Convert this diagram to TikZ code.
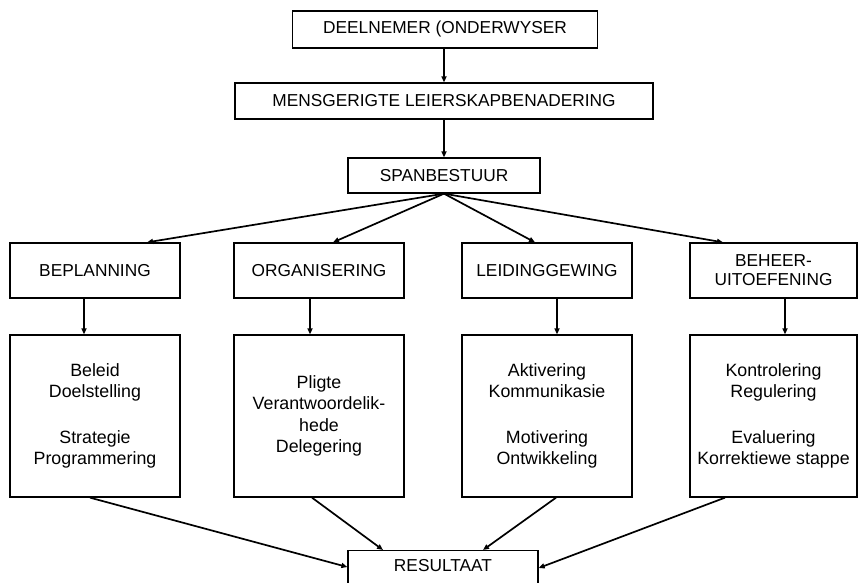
\documentclass[tikz,border=0pt]{standalone}
\usepackage{fontspec}
\setmainfont{Liberation Sans}
\usetikzlibrary{arrows.meta,calc}
\tikzset{
  box/.style={draw=black, line width=1.3pt, rectangle, inner sep=0pt, align=center,
    font=\fontsize{17.3}{19}\selectfont},
  bigbox/.style={box, minimum width=170pt, minimum height=162pt,
    font=\fontsize{17.8}{20.8}\selectfont},
  midbox/.style={box, minimum width=170pt, minimum height=55pt},
  arr/.style={line width=1.7pt, -{Triangle[length=6pt,width=5pt]}},
}
\begin{document}
\begin{tikzpicture}[x=1pt,y=-1pt]
\useasboundingbox (0,0) rectangle (858,582);
\clip (0,0) rectangle (858,582);
% top chain
\node[box, minimum width=305pt, minimum height=37pt] (top) at (445,29.5) {DEELNEMER (ONDERWYSER};
\node[box, minimum width=418pt, minimum height=36pt] (mens) at (444,101) {MENSGERIGTE LEIERSKAPBENADERING};
\node[box, minimum width=192pt, minimum height=35pt] (span) at (444,175.5) {SPANBESTUUR};
% middle row
\node[midbox] (bep) at (95,270.5) {BEPLANNING};
\node[midbox] (org) at (319,270.5) {ORGANISERING};
\node[midbox] (lei) at (547,270.5) {LEIDINGGEWING};
\node[midbox, minimum width=167pt] (beh) at (773.5,270.5) {BEHEER-\\UITOEFENING};
% lower row
\node[bigbox] (bepL) at (95,416) {Beleid\\Doelstelling\\[25pt]Strategie\\Programmering};
\node[bigbox, font=\fontsize{17.8}{21.5}\selectfont] (orgL) at (319,416) {Pligte\\Verantwoordelik-\\hede\\Delegering};
\node[bigbox] (leiL) at (547,416) {Aktivering\\Kommunikasie\\[25pt]Motivering\\Ontwikkeling};
\node[bigbox, minimum width=167pt] (behL) at (773.5,416) {Kontrolering\\Regulering\\[25pt]Evaluering\\Korrektiewe stappe};
% result
\node[box, minimum width=190pt, minimum height=62pt, anchor=north] (res) at (443,550) {};
\node[font=\fontsize{17.3}{19}\selectfont, inner sep=0pt] (restext) at (443,566) {RESULTAAT};
% connectors
\draw[arr] ([xshift=-1pt]top.south) -- (mens.north);
\draw[arr] (mens.south) -- (span.north);
\draw[arr] (span.south) -- ([xshift=52pt]bep.north);
\draw[arr] (span.south) -- ([xshift=14pt]org.north);
\draw[arr] (span.south) -- ([xshift=-12pt]lei.north);
\draw[arr] (span.south) -- ([xshift=-50.5pt]beh.north);
\draw[arr] ([xshift=-11pt]bep.south) -- ([xshift=-11pt]bepL.north);
\draw[arr] ([xshift=-9pt]org.south) -- ([xshift=-9pt]orgL.north);
\draw[arr] ([xshift=10pt]lei.south) -- ([xshift=10pt]leiL.north);
\draw[arr] ([xshift=11.5pt]beh.south) -- ([xshift=11.5pt]behL.north);
\draw[arr] ([xshift=-5pt]bepL.south) -- ([yshift=-17pt]res.north west);
\draw[arr] ([xshift=-7pt]orgL.south) -- ([xshift=-60pt]res.north);
\draw[arr] ([xshift=9pt]leiL.south) -- ([xshift=40pt]res.north);
\draw[arr] ([xshift=-48.5pt]behL.south) -- ([yshift=-18pt]res.north east);
\end{tikzpicture}
\end{document}
